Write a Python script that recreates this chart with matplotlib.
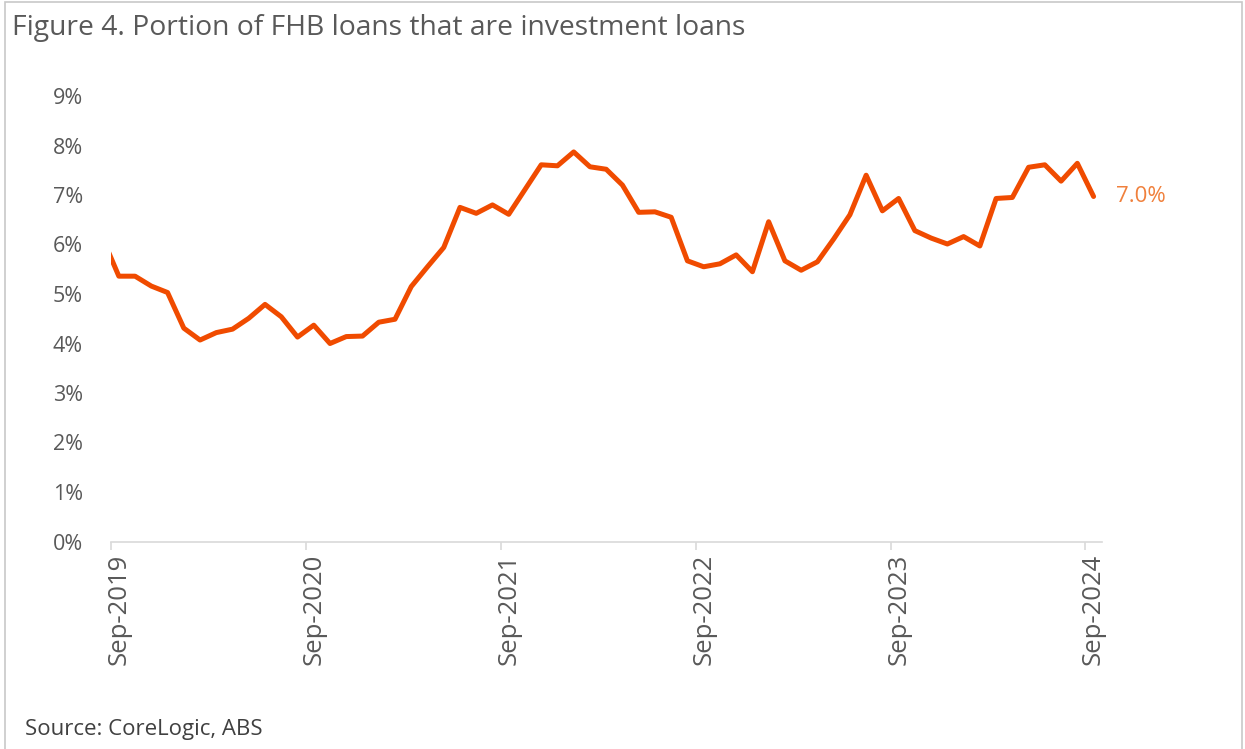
import matplotlib
matplotlib.use("Agg")
import matplotlib.pyplot as plt
from matplotlib.patches import Rectangle
import numpy as np

# monthly share of FHB loans that are investment loans (%), Aug-2019 .. Sep-2024
# (first value sits just left of the axis and is clipped, as in the original)
share = [6.13,
         5.36, 5.36, 5.16, 5.03, 4.31, 4.07, 4.22, 4.29, 4.51, 4.79, 4.54, 4.13,
         4.37, 4.00, 4.14, 4.15, 4.43, 4.49, 5.15, 5.55, 5.94, 6.75, 6.63, 6.80,
         6.61, 7.11, 7.61, 7.59, 7.87, 7.57, 7.52, 7.20, 6.65, 6.66, 6.55, 5.67,
         5.55, 5.61, 5.79, 5.45, 6.46, 5.67, 5.48, 5.65, 6.11, 6.60, 7.40, 6.68,
         6.93, 6.28, 6.13, 6.01, 6.16, 5.97, 6.93, 6.95, 7.56, 7.61, 7.28, 7.64,
         6.97]
tick_labels = ["Sep-2019", "Sep-2020", "Sep-2021", "Sep-2022", "Sep-2023", "Sep-2024"]
last_label = "7.0%"

plt.rcParams['font.family'] = ['Open Sans', 'DejaVu Sans']

W, H = 1245, 749
fig = plt.figure(figsize=(W / 100, H / 100), dpi=100)
fig.patches.append(Rectangle((5 / W, -0.01), 1237 / W, 1.0 - 2 / H + 0.01,
                             transform=fig.transFigure, fill=False,
                             edgecolor="#c8c8c8", linewidth=1.2))

ax = fig.add_axes([110.7 / W, (H - 541.5) / H, 991 / W, (541.5 - 96) / H])

x = np.arange(len(share)) - 1  # index 0 = Sep-2019
ax.plot(x, share, color="#F04B00", linewidth=3.6, solid_joinstyle="round",
        solid_capstyle="round")
ax.set_xlim(-0.5, 60.5)
ax.set_ylim(0, 9)

ax.text(x[-1] + 1.4, share[-1], last_label, color="#F0803C", fontsize=16,
        va="center", ha="left", clip_on=False)

# y axis
ax.set_yticks(range(0, 10))
ax.set_yticklabels([f"{v}%" for v in range(0, 10)])
ax.tick_params(axis="y", length=0, pad=20, labelsize=15.5, labelcolor="#595959")

# x axis: labels at category centres, tick marks at boundaries
ax.set_xticks(range(0, 61, 12))
ax.set_xticklabels(tick_labels, rotation=90)
ax.set_xticks(np.arange(-0.5, 61, 12), minor=True)
ax.tick_params(axis="x", which="major", length=0, pad=9, labelsize=18.5,
               labelcolor="#595959")
ax.tick_params(axis="x", which="minor", length=6, width=1.2, color="#d9d9d9")

for s in ["top", "right", "left"]:
    ax.spines[s].set_visible(False)
ax.spines["bottom"].set_color("#d9d9d9")
ax.spines["bottom"].set_linewidth(1.2)

fig.text(12 / W, 1 - 28 / H, "Figure 4. Portion of FHB loans that are investment loans",
         fontsize=20.3, color="#595959", va="center", ha="left")
fig.text(25 / W, 1 - 729 / H, "Source: CoreLogic, ABS", fontsize=16,
         color="#404040", va="center", ha="left")

fig.savefig("out.png", dpi=100)
